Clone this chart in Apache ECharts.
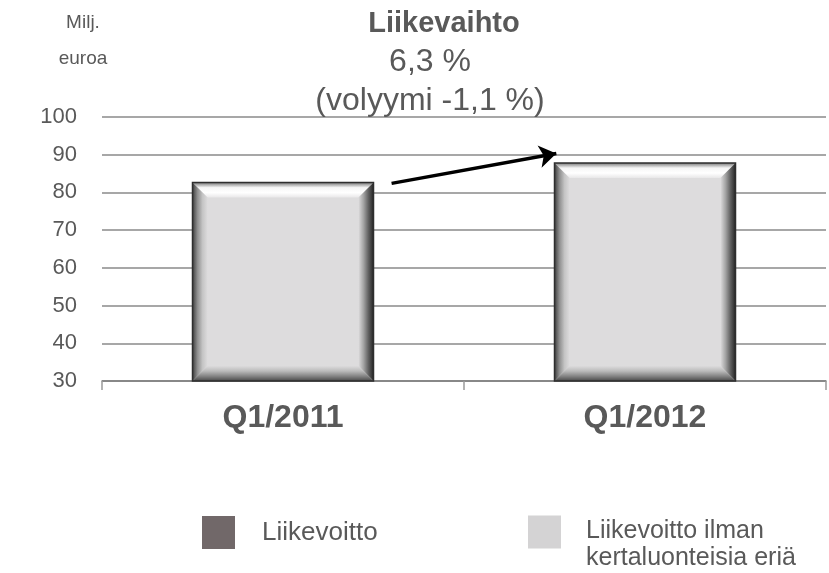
<!DOCTYPE html>
<html><head><meta charset="utf-8">
<script src="https://cdn.jsdelivr.net/npm/echarts@6/dist/echarts.min.js"></script>
<style>html,body{margin:0;padding:0;background:#fff}#c{width:829px;height:573px}</style>
</head><body><div id="c"></div>
<script>
const categories = ['Q1/2011', 'Q1/2012'];
const revenue = [82.6, 87.8];
const yTicks = {min: 30, max: 100, interval: 10};
const arrowFrom = [0.30, 82.4];
const arrowTo = [0.755, 90.3];
const legendNames = ['Liikevoitto', 'Liikevoitto ilman\nkertaluonteisia eriä'];

const TXT = '#595959';
const FONT = 'Liberation Sans';
const chart = echarts.init(document.getElementById('c'), null, {renderer: 'canvas'});

function bevelBar(params, api) {
  const idx = api.value(0), v = api.value(1);
  const top = api.coord([idx, v]);
  const base = api.coord([idx, yTicks.min]);
  const w = api.size([1, 0])[0] * 0.5;
  const x0 = top[0] - w / 2, x1 = top[0] + w / 2, y0 = top[1], y1 = base[1];
  const b = 15;
  const lg = (x, y, x2, y2, stops) => ({type: 'linear', x, y, x2, y2, colorStops: stops.map((c, i) => ({offset: i / (stops.length - 1), color: c}))});
  return {
    type: 'group',
    children: [
      {type: 'rect', shape: {x: x0, y: y0, width: w, height: y1 - y0}, style: {fill: '#dddcdd'}},
      {type: 'polygon', shape: {points: [[x0, y0], [x1, y0], [x1 - b, y0 + b], [x0 + b, y0 + b]]},
        style: {fill: lg(0, 0, 0, 1, ['#7a7a7a', '#f6f6f6', '#ffffff', '#e8e7e8'])}},
      {type: 'polygon', shape: {points: [[x0, y0], [x0 + b, y0 + b], [x0 + b, y1 - b], [x0, y1]]},
        style: {fill: lg(0, 0, 1, 0, ['#3e3e3e', '#8f8f8f', '#c4c4c4', '#dcdbdc'])}},
      {type: 'polygon', shape: {points: [[x1, y0], [x1, y1], [x1 - b, y1 - b], [x1 - b, y0 + b]]},
        style: {fill: lg(1, 0, 0, 0, ['#262626', '#606060', '#a4a4a4', '#dcdbdc'])}},
      {type: 'polygon', shape: {points: [[x0, y1], [x0 + b, y1 - b], [x1 - b, y1 - b], [x1, y1]]},
        style: {fill: lg(0, 1, 0, 0, ['#4a4a4a', '#868686', '#bbbbbb', '#dcdbdc'])}},
      {type: 'rect', shape: {x: x0, y: y0, width: w, height: y1 - y0}, style: {fill: 'none', stroke: '#2e2e2e', lineWidth: 1.5}}
    ]
  };
}

chart.setOption({
  animation: false,
  backgroundColor: '#fff',
  textStyle: {fontFamily: FONT, color: TXT},
  title: [
    {
      text: '{b|Liikevaihto}\n{n|6,3 %}\n{n|(volyymi -1,1 %)}',
      left: 430, top: 4, padding: 0, textAlign: 'center',
      textStyle: {
        align: 'center',
        rich: {
          b: {fontSize: 29, fontWeight: 'bold', color: TXT, lineHeight: 39, fontFamily: FONT, align: 'center', padding: [0, 0, 0, 28]},
          n: {fontSize: 32, fontWeight: 'normal', color: TXT, lineHeight: 39, fontFamily: FONT, align: 'center'}
        }
      }
    },
    {
      text: '{m|Milj.}\n{m|euroa}', left: 83, top: 5, padding: 0, textAlign: 'center',
      textStyle: {
        align: 'center',
        rich: {m: {fontSize: 19, fontWeight: 'normal', color: TXT, lineHeight: 36, fontFamily: FONT, align: 'center'}}
      }
    }
  ],
  grid: {left: 102, right: 3, top: 117, bottom: 192, containLabel: false},
  legend: [
    {
      data: [legendNames[0]], left: 202, top: 516, padding: 0, itemWidth: 33, itemHeight: 33,
      icon: 'rect', selectedMode: false,
      textStyle: {fontSize: 26, color: TXT, padding: [0, 0, 6, 22], fontFamily: FONT}
    },
    {
      data: [legendNames[1]], left: 528, top: 500, padding: 0, itemWidth: 33, itemHeight: 33,
      icon: 'rect', selectedMode: false,
      formatter: (name) => '{s| }\n' + name.split('\n').map(l => '{a|' + l + '}').join('\n'),
      textStyle: {
        color: TXT, fontFamily: FONT, fontSize: 25, padding: [0, 0, 0, 20],
        rich: {
          s: {fontSize: 10, lineHeight: 26, fontFamily: FONT},
          a: {fontSize: 25, lineHeight: 27, color: TXT, fontFamily: FONT}
        }
      }
    }
  ],
  xAxis: [
    {
      type: 'category', data: categories, boundaryGap: true,
      axisLine: {show: true, lineStyle: {color: '#7f7f7f', width: 1.5}},
      axisTick: {show: true, length: 9, lineStyle: {color: '#9a9a9a', width: 1.5}},
      axisLabel: {fontSize: 32, fontWeight: 'bold', color: TXT, margin: 21, fontFamily: FONT}
    },
    {type: 'value', min: -0.5, max: 1.5, show: false}
  ],
  yAxis: {
    type: 'value', min: yTicks.min, max: yTicks.max, interval: yTicks.interval,
    axisLine: {show: false}, axisTick: {show: false},
    axisLabel: {fontSize: 22, color: TXT, margin: 25, fontFamily: FONT},
    splitLine: {lineStyle: {color: '#8a8a8a', width: 1.5}}
  },
  series: [
    {name: legendNames[0], type: 'bar', data: [], itemStyle: {color: '#716869'}},
    {
      name: legendNames[1], type: 'custom', xAxisIndex: 0, yAxisIndex: 0,
      itemStyle: {color: '#d4d3d4'},
      encode: {x: 0, y: 1},
      data: revenue.map((v, i) => [i, v]),
      renderItem: bevelBar, z: 3
    },
    {
      type: 'lines', coordinateSystem: 'cartesian2d', xAxisIndex: 1, yAxisIndex: 0, z: 5,
      symbol: ['none', 'arrow'], symbolSize: [0, 17],
      lineStyle: {color: '#000', width: 3.5, opacity: 1, curveness: 0},
      data: [{coords: [arrowFrom, arrowTo]}]
    }
  ]
});
</script></body></html>
